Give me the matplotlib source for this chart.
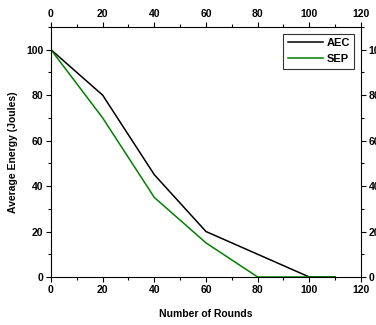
import matplotlib
matplotlib.use('Agg')
import matplotlib.pyplot as plt
from matplotlib.ticker import MultipleLocator

rounds = [0, 20, 40, 60, 80, 100, 110]
aec = [100, 80, 45, 20, 10, 0, 0]
sep = [100, 70, 35, 15, 0, 0, 0]

plt.rcParams['font.family'] = 'Liberation Sans'
plt.rcParams['font.weight'] = 'bold'
plt.rcParams['font.size'] = 7.5

fig = plt.figure(figsize=(3.76, 3.25), dpi=100)
ax = fig.add_axes([0.1356, 0.1477, 0.8245, 0.7693])

ax.plot(rounds, aec, color='black', lw=1.1, label='AEC')
ax.plot(rounds, sep, color='#008000', lw=1.1, label='SEP')

ax.set_xlim(0, 120)
ax.set_ylim(0, 110)
ax.xaxis.set_major_locator(MultipleLocator(20))
ax.xaxis.set_minor_locator(MultipleLocator(10))
ax.yaxis.set_major_locator(MultipleLocator(20))
ax.yaxis.set_minor_locator(MultipleLocator(10))
ax.tick_params(which='both', direction='out', top=True, right=True,
               labeltop=True, labelright=True, width=0.8, pad=2)
ax.tick_params(which='major', length=3.5)
ax.tick_params(which='minor', length=2)
for s in ax.spines.values():
    s.set_linewidth(0.8)

ax.set_xlabel('Number of Rounds', fontweight='bold', labelpad=10)
ax.set_ylabel('Average Energy (Joules)', fontweight='bold', labelpad=6)

leg = ax.legend(loc='upper right', fancybox=False, edgecolor='black',
                handlelength=3.2, borderpad=0.4, labelspacing=0.55,
                handletextpad=0.3, borderaxespad=0.6, fontsize=8)
leg.get_frame().set_linewidth(0.8)

fig.savefig('out.png', dpi=100)
